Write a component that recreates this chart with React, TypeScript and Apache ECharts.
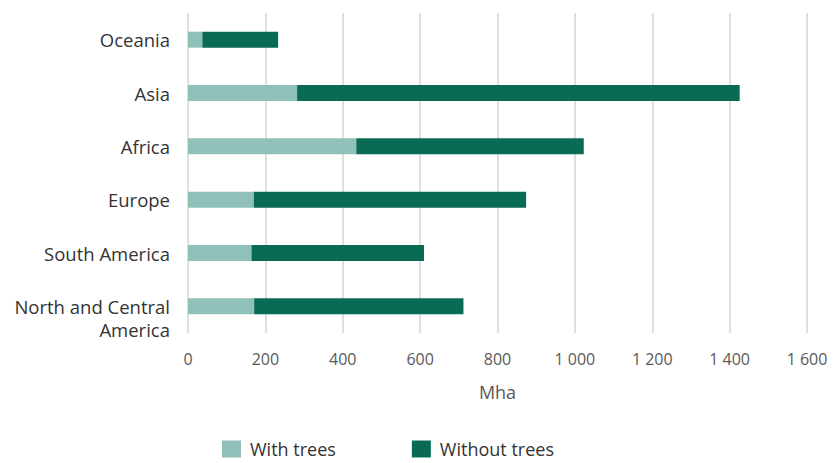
import React, { useEffect, useRef } from "react";
import * as echarts from "echarts";

// Land area by region, million hectares (Mha)
const regions = ["Oceania", "Asia", "Africa", "Europe", "South America", "North and Central\nAmerica"];
const withTrees = [37, 282, 435, 170, 164, 171];
const withoutTrees = [196, 1144, 588, 704, 446, 541];
const xTicks = [0, 200, 400, 600, 800, 1000, 1200, 1400, 1600];

const LIGHT = "#8fc1b9";
const DARK = "#0a6b55";
const FONT = "'Open Sans', 'Noto Sans', sans-serif";

function fmt(v: number): string {
  const s = String(Math.round(v));
  return s.length > 3 ? s.slice(0, s.length - 3) + " " + s.slice(-3) : s;
}

export default function App() {
  const ref = useRef<HTMLDivElement>(null);

  useEffect(() => {
    if (!ref.current) return;
    const chart = echarts.init(ref.current, undefined, { renderer: "svg" });
    chart.setOption({
      animation: false,
      backgroundColor: "#ffffff",
      textStyle: { fontFamily: FONT },
      grid: { left: 188, right: 26, top: 13, bottom: 130, containLabel: false },
      legend: {
        top: 440,
        left: 222,
        padding: 0,
        itemWidth: 19,
        itemHeight: 17,
        itemGap: 76,
        icon: "rect",
        textStyle: {
          fontFamily: FONT,
          fontSize: 18,
          lineHeight: 18,
          color: "#333333",
          padding: [0, 0, 0, 4],
        },
        data: ["With trees", "Without trees"],
      },
      xAxis: {
        type: "value",
        min: xTicks[0],
        max: xTicks[xTicks.length - 1],
        interval: 200,
        name: "Mha",
        nameLocation: "middle",
        nameGap: 50,
        nameTextStyle: { fontFamily: FONT, fontSize: 18, color: "#595959" },
        axisLine: { show: false },
        axisTick: { show: false },
        axisLabel: {
          margin: 18,
          fontFamily: FONT,
          fontSize: 16,
          color: "#595959",
          formatter: (v: number) => fmt(v),
        },
        splitLine: { show: true, lineStyle: { color: "#d4d4d4", width: 1.5 } },
      },
      yAxis: {
        type: "category",
        inverse: true,
        data: regions,
        axisLine: { show: false },
        axisTick: { show: false },
        axisLabel: {
          margin: 18,
          fontFamily: FONT,
          fontSize: 18.5,
          color: "#333333",
          lineHeight: 23,
          align: "right",
          // a wrapped name keeps its first line level with the bar
          formatter: (v: string) => (v.includes("\n") ? "\n" + v : v),
        },
        splitLine: { show: false },
      },
      series: [
        {
          name: "With trees",
          type: "bar",
          stack: "land",
          barWidth: 16,
          itemStyle: { color: LIGHT },
          data: withTrees,
        },
        {
          name: "Without trees",
          type: "bar",
          stack: "land",
          barWidth: 16,
          itemStyle: { color: DARK },
          data: withoutTrees,
        },
      ],
    });
    return () => chart.dispose();
  }, []);

  return (
    <div
      ref={ref}
      style={{ position: "fixed", left: 0, top: 0, width: 833, height: 463, background: "#fff" }}
    />
  );
}
